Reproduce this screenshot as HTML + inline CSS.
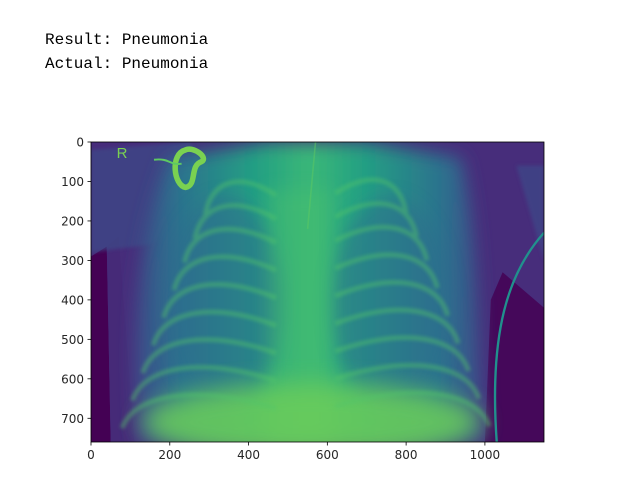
<!DOCTYPE html>
<html style="overflow:hidden;width:635px;height:482px"><head><meta charset="utf-8"><style>
body{margin:0;background:#fff;width:635px;height:482px;overflow:hidden;position:relative;font-family:"DejaVu Sans","Liberation Sans",sans-serif}
.t{position:absolute;left:45px;font-family:"Liberation Mono",monospace;font-size:16px;line-height:18px;color:#000;white-space:pre}
svg{overflow:hidden}
</style></head><body>
<div class="t" style="top:31px">Result: Pneumonia</div>
<div class="t" style="top:55px">Actual: Pneumonia</div>
<svg id="chart" width="635" height="482" style="position:absolute;left:0;top:0">
<defs>
<linearGradient id="bodyg" x1="0" x2="1" y1="0" y2="0">
<stop offset="0" stop-color="#3e4a89"/><stop offset="0.12" stop-color="#2c718e"/><stop offset="0.35" stop-color="#23a083"/><stop offset="0.5" stop-color="#3bb877"/><stop offset="0.65" stop-color="#23a083"/><stop offset="0.88" stop-color="#2c718e"/><stop offset="1" stop-color="#3e4a89"/>
</linearGradient>
<filter id="blur" x="-30%" y="-30%" width="160%" height="160%"><feGaussianBlur stdDeviation="22"/></filter>
<filter id="blur2" x="-20%" y="-20%" width="140%" height="140%"><feGaussianBlur stdDeviation="5"/></filter>
<filter id="blur3" x="-30%" y="-30%" width="160%" height="160%"><feGaussianBlur stdDeviation="30"/></filter>
<clipPath id="imgclip"><rect x="0" y="0" width="1150" height="760"/></clipPath>
</defs>
<g id="img" transform="translate(91,142) scale(0.3939,0.3947)" clip-path="url(#imgclip)">
<rect x="0" y="0" width="1150" height="760" fill="#472d7b"/>
<path d="M0,290 L40,265 L50,760 L0,760Z" fill="#440154"/>
<path d="M40,265 L70,240 L110,760 L50,760Z" fill="#462a78" />
<path d="M1000,760 L1015,400 L1045,330 L1150,420 L1150,760Z" fill="#45085a"/>
<path d="M1080,60 L1150,60 L1150,300 Z" fill="#3e4a89" opacity="0.7" filter="url(#blur2)"/>
<path d="M0,20 L250,0 L350,150 L150,260 L0,280Z" fill="#3b4f8a" opacity="0.6" filter="url(#blur2)"/>
<path d="M120,760 C100,500 110,250 200,40 L450,0 L700,0 L940,40 C990,250 980,500 1000,760Z" fill="url(#bodyg)" filter="url(#blur)"/>
<ellipse cx="340" cy="410" rx="150" ry="270" fill="#2f6b8e" opacity="0.5" filter="url(#blur)"/>
<ellipse cx="760" cy="410" rx="150" ry="270" fill="#2f6b8e" opacity="0.5" filter="url(#blur)"/>
<rect x="450" y="120" width="160" height="640" fill="#4cc26c" opacity="0.4" filter="url(#blur)"/>
<ellipse cx="560" cy="710" rx="430" ry="100" fill="#6ccd5a" opacity="0.85" filter="url(#blur3)"/>
<g id="ribs" fill="none" stroke="#52c569" stroke-width="12" opacity="0.45" filter="url(#blur2)"></g>
<path d="M240,20 C200,30 210,110 240,115 C270,110 250,60 280,50 C300,40 260,10 240,20Z" fill="none" stroke="#7ad151" stroke-width="14"/>
<path d="M160,45 C200,40 200,60 230,55" fill="none" stroke="#5ec962" stroke-width="5"/>
<text x="65" y="40" font-size="38" fill="#7ad151" font-family="Liberation Sans,sans-serif">R</text>
<line x1="570" y1="0" x2="550" y2="220" stroke="#5ec962" stroke-width="4" opacity="0.5"/>
<path d="M1150,230 C1060,330 1010,480 1030,760" fill="none" stroke="#21908d" stroke-width="6"/>
</g>
<rect x="91" y="142" width="453" height="300" fill="none" stroke="#000" stroke-width="0.8"/>
<g id="axes" font-size="12" fill="#262626"></g>
</svg>
<script>
const xTicks=[0,200,400,600,800,1000];
const yTicks=[0,100,200,300,400,500,600,700];
const ribYLeft=[95,155,215,285,355,425,495,565,635];
const ribYRight=[90,150,210,280,350,420,490,560,630];
const sx=v=>91+v*0.3939, sy=v=>142+v*0.3947;
const NS="http://www.w3.org/2000/svg";
const ribs=document.getElementById('ribs');
ribYLeft.forEach((y,i)=>{const w=150+i*22;const p=document.createElementNS(NS,'path');
p.setAttribute('d',`M470,${y+40} C${470-w*0.6},${y-20} ${470-w*1.1},${y} ${470-w*1.2},${y+90}`);


ribs.appendChild(p);});
ribYRight.forEach((y,i)=>{const w=150+i*22;const p=document.createElementNS(NS,'path');
p.setAttribute('d',`M620,${y+40} C${620+w*0.6},${y-20} ${620+w*1.1},${y} ${620+w*1.2},${y+90}`);


ribs.appendChild(p);});
const ax=document.getElementById('axes');
xTicks.forEach(v=>{const x=sx(v);
const l=document.createElementNS(NS,'line');l.setAttribute('x1',x);l.setAttribute('x2',x);l.setAttribute('y1',442);l.setAttribute('y2',445.5);l.setAttribute('stroke','#000');l.setAttribute('stroke-width','0.8');


ax.appendChild(l);
const t=document.createElementNS(NS,'text');t.setAttribute('x',x);t.setAttribute('y',459);t.setAttribute('text-anchor','middle');t.textContent=v;


ax.appendChild(t);});
yTicks.forEach(v=>{const y=sy(v);
const l=document.createElementNS(NS,'line');l.setAttribute('x1',87.5);l.setAttribute('x2',91);l.setAttribute('y1',y);l.setAttribute('y2',y);l.setAttribute('stroke','#000');l.setAttribute('stroke-width','0.8');


ax.appendChild(l);
const t=document.createElementNS(NS,'text');t.setAttribute('x',84);t.setAttribute('y',y+4.5);t.setAttribute('text-anchor','end');t.textContent=v;


ax.appendChild(t);});
</script>
</body></html>
